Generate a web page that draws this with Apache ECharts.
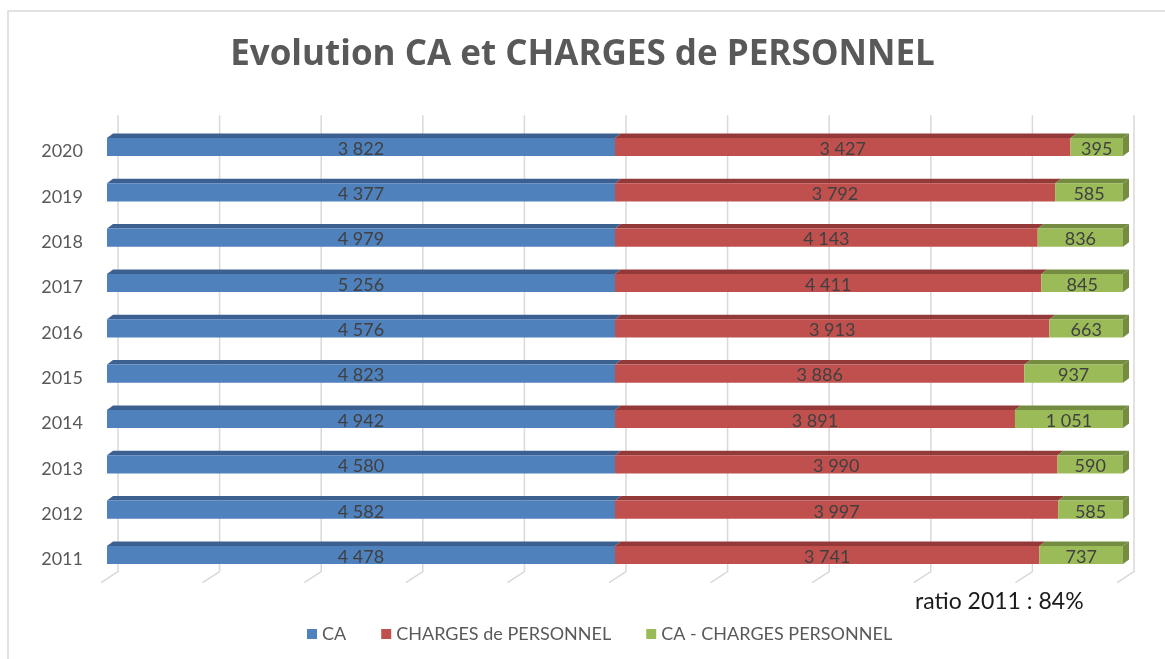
<!DOCTYPE html>
<html>
<head>
<meta charset="utf-8">
<style>
  html, body { margin: 0; padding: 0; background: #ffffff; }
  #chart { width: 1165px; height: 659px; }
</style>
<script src="https://cdn.jsdelivr.net/npm/echarts@6/dist/echarts.min.js"></script>
</head>
<body>
<div id="chart"></div>
<script>
// Yearly turnover (CA), personnel costs, and the margin between them
const years = ['2011', '2012', '2013', '2014', '2015', '2016', '2017', '2018', '2019', '2020'];
const ca = [4478, 4582, 4580, 4942, 4823, 4576, 5256, 4979, 4377, 3822];
const charges = [3741, 3997, 3990, 3891, 3886, 3913, 4411, 4143, 3792, 3427];
const ecart = [737, 585, 590, 1051, 937, 663, 845, 836, 585, 395];
const percentTicks = [0, 10, 20, 30, 40, 50, 60, 70, 80, 90, 100];
const seriesNames = ['CA', 'CHARGES de PERSONNEL', 'CA - CHARGES PERSONNEL'];
const ratioText = 'ratio 2011 : 84%';

const FONT = 'Lato, "Open Sans", sans-serif';
const TITLE_FONT = '"Open Sans", Lato, sans-serif';
const palette = [
  { front: '#4F81BD', top: '#3C6190' },
  { front: '#C0504D', top: '#933A38' },
  { front: '#9BBB59', top: '#738C40' }
];

function fmt(v) {
  return String(v).replace(/\B(?=(\d{3})+(?!\d))/g, ' ');
}

// 100 % stacked segments: [start %, end %, category index, raw value]
const allSeries = [ca, charges, ecart];
const segments = allSeries.map(() => []);
years.forEach((y, i) => {
  const total = ca[i] + charges[i] + ecart[i];
  let acc = 0;
  allSeries.forEach((arr, k) => {
    const p = arr[i] / total * 100;
    segments[k].push([acc, acc + p, i, arr[i]]);
    acc += p;
  });
});

const DX = 6, DY = 4.5;

function makeSegmentRenderer(k, isLast) {
  return function (params, api) {
    const s = api.value(0), e = api.value(1), i = api.value(2), raw = api.value(3);
    const a = api.coord([s, i]);
    const b = api.coord([e, i]);
    const h = api.size([0, 1])[1] * 0.4;
    const y0 = a[1] - h / 2, y1 = a[1] + h / 2;
    const x0 = a[0], x1 = b[0];
    const children = [
      {
        type: 'polygon',
        shape: { points: [[x0, y0], [x0 + DX, y0 - DY], [x1 + DX, y0 - DY], [x1, y0]] },
        style: { fill: palette[k].top }
      },
      {
        type: 'rect',
        shape: { x: x0, y: y0, width: x1 - x0, height: h },
        style: { fill: palette[k].front }
      }
    ];
    if (isLast) {
      children.push({
        type: 'polygon',
        shape: { points: [[x1, y0], [x1 + DX, y0 - DY], [x1 + DX, y1 - DY], [x1, y1]] },
        style: { fill: palette[k].top }
      });
    }
    children.push({
      type: 'text',
      style: {
        text: fmt(raw),
        x: (x0 + x1) / 2,
        y: a[1] + 2,
        align: 'center',
        verticalAlign: 'middle',
        fill: '#404040',
        font: '18px ' + FONT
      }
    });
    return { type: 'group', children: children };
  };
}

// Back-wall gridlines with their floor returns
function renderGrid(params, api) {
  const v = api.value(0);
  const p = api.coord([v, 0]);
  const cs = params.coordSys;
  const bx = p[0] + 11;
  const top = cs.y - 9;
  const bot = cs.y + cs.height - 6;
  return {
    type: 'polyline',
    shape: { points: [[bx, top], [bx, bot], [bx - 17, bot + 11]] },
    style: { stroke: '#D9D9D9', lineWidth: 1.5, fill: null }
  };
}

const chart = echarts.init(document.getElementById('chart'), null, { renderer: 'canvas' });

const series = [
  {
    type: 'custom',
    name: '_grid',
    silent: true,
    z: 1,
    renderItem: renderGrid,
    data: percentTicks.map(v => [v]),
    encode: { x: 0 }
  }
];
seriesNames.forEach((name, k) => {
  series.push({
    type: 'custom',
    name: name,
    z: 2,
    itemStyle: { color: palette[k].front },
    renderItem: makeSegmentRenderer(k, k === seriesNames.length - 1),
    data: segments[k],
    encode: { x: [0, 1], y: 2 }
  });
});

chart.setOption({
  backgroundColor: '#ffffff',
  animation: false,
  title: {
    text: 'Evolution CA et CHARGES de PERSONNEL',
    left: 'center',
    top: 33,
    textStyle: { fontFamily: TITLE_FONT, fontWeight: 'bold', fontSize: 35, color: '#595959' }
  },
  grid: { left: 107, right: 42, top: 124.3, bottom: 81.3, containLabel: false },
  xAxis: {
    type: 'value',
    min: 0,
    max: 100,
    interval: 10,
    axisLine: { show: false },
    axisTick: { show: false },
    axisLabel: { show: false },
    splitLine: { show: false }
  },
  yAxis: {
    type: 'category',
    data: years,
    axisLine: { show: false },
    axisTick: { show: false },
    axisLabel: {
      margin: 24,
      fontFamily: FONT,
      fontSize: 18,
      color: '#595959',
      verticalAlign: 'top',
      lineHeight: 9
    },
    splitLine: { show: false }
  },
  legend: {
    data: seriesNames,
    left: 302,
    top: 620,
    icon: 'rect',
    itemWidth: 10,
    itemHeight: 10,
    itemGap: 35,
    textStyle: { fontFamily: FONT, fontSize: 18, color: '#595959' }
  },
  graphic: [
    {
      type: 'rect',
      shape: { x: 8, y: 11, width: 1200, height: 700 },
      style: { fill: null, stroke: '#D9D9D9', lineWidth: 1.5 },
      silent: true,
      z: -1
    },
    {
      type: 'text',
      left: 915,
      top: 590,
      style: { text: ratioText, font: '23px ' + FONT, fill: '#1A1A1A' }
    }
  ],
  series: series
});
</script>
</body>
</html>
